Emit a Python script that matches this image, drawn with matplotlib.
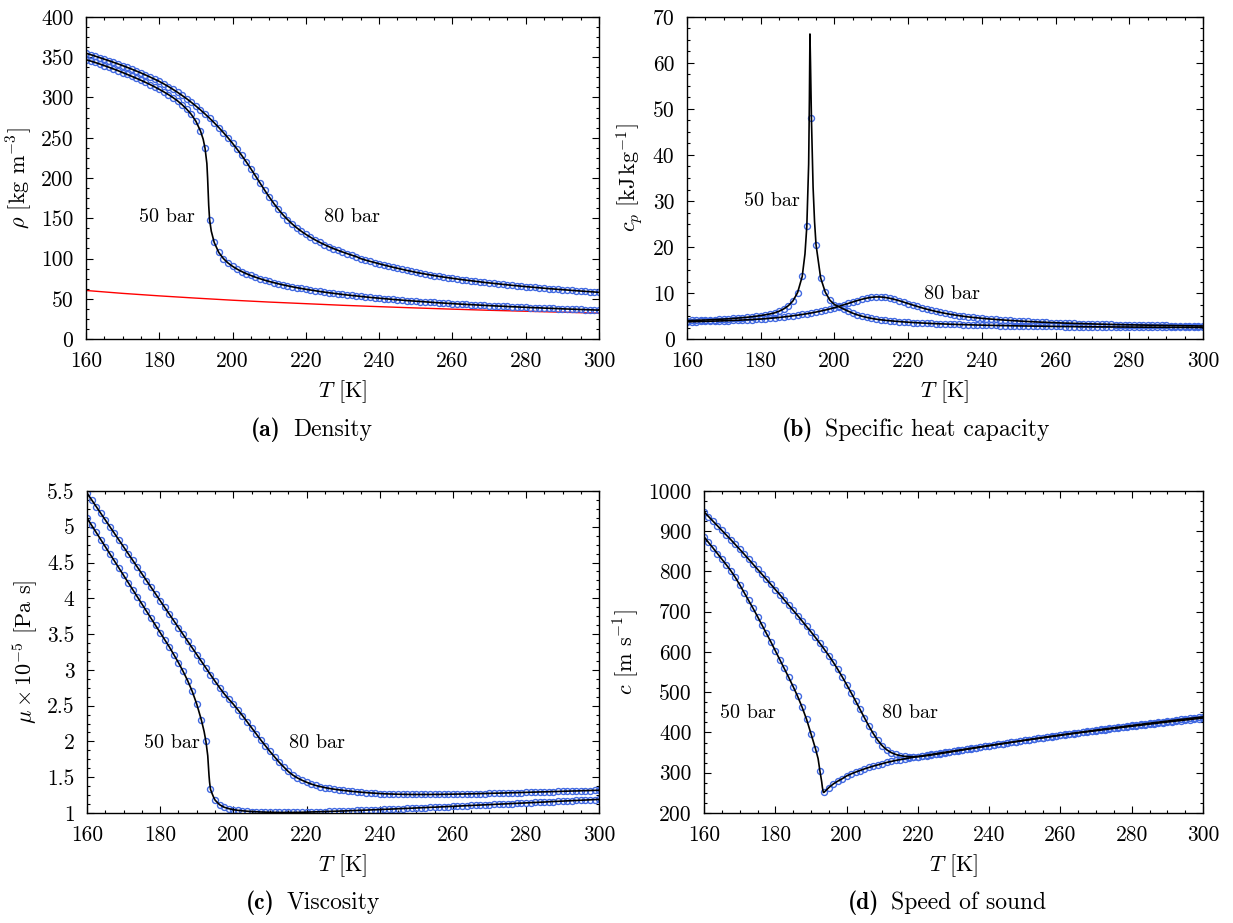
import numpy as np
import matplotlib
matplotlib.use("Agg")
import matplotlib.pyplot as plt
from matplotlib.ticker import MultipleLocator, FormatStrFormatter

plt.rcParams['font.family'] = 'cmr10'
plt.rcParams['mathtext.fontset'] = 'cm'
plt.rcParams['axes.formatter.use_mathtext'] = True
plt.rcParams['font.size'] = 15.5
plt.rcParams['axes.unicode_minus'] = False

# temperature grid of the reference points [K]
T = np.arange(160, 300.001, 1.25)
# extra line points close to the pseudo-critical point at 50 bar
T_near = [192.0, 193.0, 193.2, 193.35, 193.5, 194.2, 194.6]

# density [kg m^-3]
rho50 = [347.0, 345.3, 343.5, 341.6, 339.6, 337.6, 335.5, 333.3,
         331.0, 328.7, 326.3, 323.9, 321.4, 318.8, 316.1, 313.2,
         310.2, 307.0, 303.6, 299.9, 295.8, 291.0, 285.5, 279.0,
         270.5, 258.5, 237.0, 148.0, 120.0, 107.5, 100.0, 94.5,
         90.3, 86.8, 83.8, 81.2, 78.9, 76.8, 74.9, 73.1,
         71.5, 70.0, 68.6, 67.3, 66.1, 64.9, 63.8, 62.8,
         61.8, 60.9, 60.0, 59.1, 58.3, 57.5, 56.8, 56.1,
         55.4, 54.7, 54.1, 53.5, 52.9, 52.3, 51.7, 51.2,
         50.7, 50.2, 49.7, 49.2, 48.7, 48.3, 47.8, 47.4,
         47.0, 46.6, 46.2, 45.8, 45.4, 45.0, 44.7, 44.3,
         44.0, 43.6, 43.3, 43.0, 42.7, 42.4, 42.1, 41.8,
         41.5, 41.2, 40.9, 40.7, 40.4, 40.1, 39.9, 39.6,
         39.4, 39.1, 38.9, 38.7, 38.4, 38.2, 38.0, 37.8,
         37.5, 37.3, 37.1, 36.9, 36.7, 36.5, 36.3, 36.1,
         35.9]
rho50_near = [248.0, 218.0, 200.0, 183.0, 166.0, 134.0, 127.0]
rho80 = [355.0, 353.2, 351.4, 349.5, 347.6, 345.7, 343.7, 341.7,
         339.6, 337.4, 335.2, 332.9, 330.5, 328.0, 325.4, 322.7,
         320.0, 316.9, 313.6, 310.1, 306.4, 302.5, 298.4, 294.0,
         289.4, 284.6, 279.5, 274.2, 268.6, 262.7, 256.5, 250.0,
         243.1, 235.8, 228.1, 220.0, 211.5, 202.7, 193.8, 185.0,
         176.5, 168.5, 161.1, 154.4, 148.4, 143.0, 138.2, 133.9,
         130.0, 126.5, 123.2, 120.2, 117.4, 114.8, 112.4, 110.2,
         108.1, 106.1, 104.2, 102.4, 99.8, 98.1, 96.5, 95.0,
         93.5, 92.0, 90.6, 89.2, 87.9, 86.6, 85.3, 84.1,
         82.9, 81.8, 80.8, 79.8, 78.8, 77.9, 77.0, 76.2,
         75.4, 74.6, 73.8, 73.1, 72.4, 71.7, 71.0, 70.3,
         69.7, 69.1, 68.5, 67.9, 67.3, 66.7, 66.2, 65.6,
         65.1, 64.6, 64.1, 63.6, 63.1, 62.6, 62.2, 61.7,
         61.3, 60.9, 60.4, 60.0, 59.6, 59.2, 58.8, 58.4,
         58.0]
# ideal gas density at 50 bar (red line)
T_ideal = [160, 170, 180, 190, 200, 210, 220, 230, 240, 250, 260, 270, 280, 290, 300]
rho_ideal = [60.3, 56.7, 53.6, 50.8, 48.2, 45.9, 43.9, 41.9, 40.2, 38.6,
             37.1, 35.7, 34.5, 33.3, 32.2]

# specific heat capacity [kJ kg^-1]
cp50 = [4.00, 4.03, 4.06, 4.10, 4.14, 4.18, 4.23, 4.28,
        4.34, 4.40, 4.47, 4.55, 4.64, 4.73, 4.84, 4.96,
        5.10, 5.26, 5.45, 5.68, 6.05, 6.55, 7.25, 8.30,
        10.1, 13.6, 24.5, 48.0, 20.5, 13.3, 10.2, 8.45,
        7.50, 7.00, 6.50, 6.05, 5.60, 5.25, 4.95, 4.70,
        4.49, 4.32, 4.18, 4.07, 3.97, 3.88, 3.80, 3.72,
        3.65, 3.59, 3.53, 3.48, 3.43, 3.38, 3.34, 3.30,
        3.26, 3.22, 3.19, 3.16, 3.13, 3.10, 3.07, 3.04,
        3.02, 2.99, 2.97, 2.95, 2.93, 2.91, 2.89, 2.87,
        2.85, 2.84, 2.82, 2.81, 2.79, 2.78, 2.76, 2.75,
        2.74, 2.73, 2.72, 2.71, 2.70, 2.69, 2.68, 2.67,
        2.66, 2.65, 2.64, 2.64, 2.63, 2.62, 2.61, 2.61,
        2.60, 2.59, 2.59, 2.58, 2.57, 2.57, 2.56, 2.56,
        2.55, 2.55, 2.54, 2.54, 2.53, 2.53, 2.52, 2.52,
        2.51]
cp50_near = [18.5, 38.0, 52.0, 66.3, 60.0, 33.0, 25.5]
cp80 = [3.75, 3.77, 3.79, 3.81, 3.84, 3.87, 3.90, 3.93,
        3.96, 4.00, 4.04, 4.08, 4.13, 4.18, 4.23, 4.29,
        4.35, 4.42, 4.50, 4.59, 4.69, 4.80, 4.92, 5.05,
        5.19, 5.34, 5.50, 5.67, 5.86, 6.07, 6.30, 6.55,
        6.82, 7.11, 7.42, 7.74, 8.06, 8.37, 8.65, 8.89,
        9.06, 9.15, 9.14, 9.04, 8.86, 8.62, 8.34, 8.03,
        7.71, 7.39, 7.08, 6.78, 6.50, 6.24, 6.00, 5.78,
        5.58, 5.40, 5.24, 5.09, 4.94, 4.81, 4.70, 4.60,
        4.50, 4.41, 4.33, 4.25, 4.18, 4.11, 4.04, 3.98,
        3.92, 3.86, 3.81, 3.76, 3.71, 3.66, 3.62, 3.58,
        3.54, 3.50, 3.46, 3.43, 3.40, 3.37, 3.34, 3.31,
        3.28, 3.25, 3.23, 3.20, 3.18, 3.15, 3.13, 3.11,
        3.09, 3.07, 3.05, 3.03, 3.01, 2.99, 2.98, 2.96,
        2.94, 2.93, 2.91, 2.90, 2.88, 2.87, 2.86, 2.84,
        2.83]

# viscosity [1e-5 Pa s]
mu50 = [5.12, 5.02, 4.92, 4.82, 4.72, 4.62, 4.52, 4.42,
        4.32, 4.22, 4.12, 4.02, 3.92, 3.82, 3.72, 3.62,
        3.52, 3.42, 3.32, 3.21, 3.10, 2.98, 2.85, 2.70,
        2.52, 2.30, 2.00, 1.33, 1.18, 1.115, 1.08, 1.06,
        1.046, 1.037, 1.030, 1.025, 1.020, 1.017, 1.014, 1.012,
        1.010, 1.009, 1.008, 1.008, 1.008, 1.008, 1.009, 1.010,
        1.012, 1.014, 1.016, 1.018, 1.020, 1.022, 1.024, 1.026,
        1.028, 1.030, 1.033, 1.035, 1.038, 1.040, 1.043, 1.045,
        1.048, 1.051, 1.053, 1.056, 1.059, 1.062, 1.064, 1.067,
        1.070, 1.073, 1.076, 1.079, 1.081, 1.084, 1.087, 1.090,
        1.093, 1.096, 1.099, 1.102, 1.105, 1.108, 1.111, 1.114,
        1.117, 1.120, 1.123, 1.126, 1.129, 1.132, 1.135, 1.138,
        1.141, 1.144, 1.147, 1.150, 1.153, 1.157, 1.160, 1.163,
        1.166, 1.169, 1.172, 1.175, 1.178, 1.181, 1.184, 1.187,
        1.190]
mu50_near = [2.14, 1.80, 1.64, 1.52, 1.43, 1.27, 1.22]
mu80 = [5.470, 5.376, 5.282, 5.188, 5.094, 5.000, 4.906, 4.812,
        4.718, 4.624, 4.530, 4.436, 4.342, 4.248, 4.154, 4.060,
        3.966, 3.872, 3.778, 3.684, 3.590, 3.496, 3.402, 3.308,
        3.214, 3.120, 3.026, 2.932, 2.840, 2.750, 2.665, 2.590,
        2.520, 2.440, 2.360, 2.275, 2.190, 2.105, 2.020, 1.940,
        1.860, 1.785, 1.710, 1.645, 1.580, 1.530, 1.490, 1.458,
        1.430, 1.405, 1.385, 1.369, 1.355, 1.343, 1.333, 1.324,
        1.316, 1.309, 1.302, 1.296, 1.290, 1.285, 1.280, 1.276,
        1.272, 1.268, 1.266, 1.264, 1.262, 1.261, 1.260, 1.259,
        1.259, 1.259, 1.259, 1.259, 1.260, 1.260, 1.261, 1.262,
        1.263, 1.264, 1.265, 1.266, 1.268, 1.269, 1.271, 1.272,
        1.274, 1.276, 1.277, 1.279, 1.281, 1.283, 1.284, 1.286,
        1.288, 1.290, 1.292, 1.294, 1.295, 1.297, 1.299, 1.301,
        1.303, 1.305, 1.307, 1.308, 1.310, 1.312, 1.314, 1.316,
        1.318]

# speed of sound [m s^-1]
c50 = [886, 872, 858.5, 844.5, 830.5, 816.5, 802, 785.5,
       767, 747.5, 728, 708.5, 688, 667, 646, 625,
       603, 581, 559, 537, 514, 490, 463, 433,
       397, 360, 305, 252, 263, 272, 279, 285,
       292, 297, 301.5, 305.5, 309.5, 313, 316.5, 319.5,
       322.5, 325.5, 328, 330.5, 332.5, 334.5, 336.5, 338.5,
       340, 341.8, 343.6, 345.4, 347.2, 349.0, 350.7, 352.4,
       354.0, 355.7, 357.4, 359.1, 360.8, 362.5, 364.2, 365.9,
       367.5, 369.2, 370.8, 372.4, 374.0, 375.7, 377.3, 378.9,
       380.5, 382.1, 383.7, 385.2, 386.8, 388.4, 389.9, 391.5,
       393.0, 394.5, 396.0, 397.4, 398.9, 400.3, 401.7, 403.1,
       404.5, 405.9, 407.3, 408.7, 410.0, 411.4, 412.8, 414.1,
       415.5, 416.8, 418.1, 419.4, 420.8, 422.1, 423.4, 424.7,
       426.0, 427.2, 428.5, 429.7, 431.0, 432.2, 433.5, 434.7,
       436.0]
c50_near = [335.0, 278.0, 264.0, 256.0, 251.0, 256.0, 259.5]
c80 = [948, 936.5, 925, 913.5, 902, 890.5, 879, 867,
       855, 843, 830.5, 818, 805.5, 793, 780.5, 768,
       755, 742.5, 729.5, 716.5, 703.5, 690.5, 677, 663.5,
       650, 636, 621.5, 606.5, 591, 574.5, 557, 538.5,
       519, 499, 478.5, 457.5, 436.5, 416, 397, 380.5,
       367, 357, 350, 345.5, 342.5, 340.8, 340.0, 339.8,
       340.2, 341.2, 342.5, 344.0, 345.7, 347.4, 349.2, 351,
       352.8, 354.6, 356.4, 358.2, 360, 361.8, 363.6, 365.4,
       367.2, 368.9, 370.6, 372.3, 374, 375.7, 377.4, 379.1,
       380.8, 382.5, 384.1, 385.7, 387.3, 388.9, 390.5, 392.1,
       393.7, 395.3, 396.9, 398.4, 399.9, 401.4, 402.9, 404.4,
       405.9, 407.4, 408.9, 410.3, 411.8, 413.2, 414.6, 416,
       417.4, 418.8, 420.2, 421.6, 423, 424.3, 425.7, 427,
       428.4, 429.7, 431, 432.3, 433.6, 434.9, 436.2, 437.5,
       438.8]

BLUE = '#4169e1'
TICK_FS = 15.5
LABEL_FS = 16
NOTE_FS = 14.5
CAP_FS = 17


def with_near(vals, near):
    t = np.concatenate([T, T_near])
    v = np.concatenate([vals, near])
    order = np.argsort(t)
    return t[order], v[order]


def panel(ax, s50, near50, s80, ylim, ymajor, ylabel, lab50, lab80):
    for vals, near in ((s50, near50), (s80, None)):
        if near is None:
            tl, vl = T, np.asarray(vals)
        else:
            tl, vl = with_near(vals, near)
        ax.plot(T, vals, ls='none', marker='o', ms=4.3, mfc='none',
                mec=BLUE, mew=1.0, zorder=2)
        ax.plot(tl, vl, color='black', lw=1.2, zorder=3)
    ax.set_xlim(160, 300)
    ax.set_ylim(*ylim)
    ax.xaxis.set_major_locator(MultipleLocator(20))
    ax.xaxis.set_minor_locator(MultipleLocator(5))
    ax.yaxis.set_major_locator(MultipleLocator(ymajor))
    ax.yaxis.set_minor_locator(MultipleLocator(ymajor / 4))
    ax.yaxis.set_major_formatter(FormatStrFormatter('%g'))
    ax.xaxis.set_major_formatter(FormatStrFormatter('%d'))
    ax.tick_params(which='both', direction='in', top=True, right=True,
                   labelsize=TICK_FS, width=0.8)
    ax.tick_params(which='major', length=5, pad=9)
    ax.tick_params(which='minor', length=2.5)
    for sp in ax.spines.values():
        sp.set_linewidth(1.0)
    ax.set_xlabel(r'$T$ [K]', fontsize=LABEL_FS, labelpad=5)
    ax.set_ylabel(ylabel, fontsize=LABEL_FS, labelpad=5)
    ax.text(lab50[0], lab50[1], '50 bar', ha='center', va='center', fontsize=NOTE_FS)
    ax.text(lab80[0], lab80[1], '80 bar', ha='center', va='center', fontsize=NOTE_FS)


def caption(x_split, y, tag, text):
    fig.text(x_split, y, tag, ha='right', va='center', fontsize=CAP_FS, family='cmb10')
    fig.text(x_split + 12 / 1233, y, text, ha='left', va='center', fontsize=CAP_FS)


fig = plt.figure(figsize=(12.33, 9.23), dpi=100)
ax_a = fig.add_axes([0.0697, 0.6327, 0.4161, 0.3489])
ax_b = fig.add_axes([0.5572, 0.6327, 0.4185, 0.3489])
ax_c = fig.add_axes([0.0706, 0.1192, 0.4153, 0.3489])
ax_d = fig.add_axes([0.5710, 0.1192, 0.4047, 0.3489])

ax_a.plot(T_ideal, rho_ideal, color='red', lw=1.0, zorder=1)
panel(ax_a, rho50, rho50_near, rho80, (0, 400), 50,
      r'$\rho$ [kg m$^{-3}$]', (182.1, 151.6), (232.6, 151.6))
panel(ax_b, cp50, cp50_near, cp80, (0, 70), 10,
      r'$c_p\ \left[\mathrm{kJ\,kg^{-1}}\right]$', (183.1, 30.0), (231.9, 9.8))
panel(ax_c, mu50, mu50_near, mu80, (1, 5.5), 0.5,
      r'$\mu\times10^{-5}$ [Pa s]', (183.2, 1.98), (222.9, 1.98))
panel(ax_d, c50, c50_near, c80, (200, 1000), 100,
      r'$c$ [m s$^{-1}$]', (172.3, 448), (217.8, 448))

caption(281 / 1233, 1 - 430 / 923, '(a)', 'Density')
caption(813 / 1233, 1 - 430 / 923, '(b)', 'Specific heat capacity')
caption(275 / 1233, 1 - 903 / 923, '(c)', 'Viscosity')
caption(879 / 1233, 1 - 903 / 923, '(d)', 'Speed of sound')

fig.savefig('out.png', dpi=100)
